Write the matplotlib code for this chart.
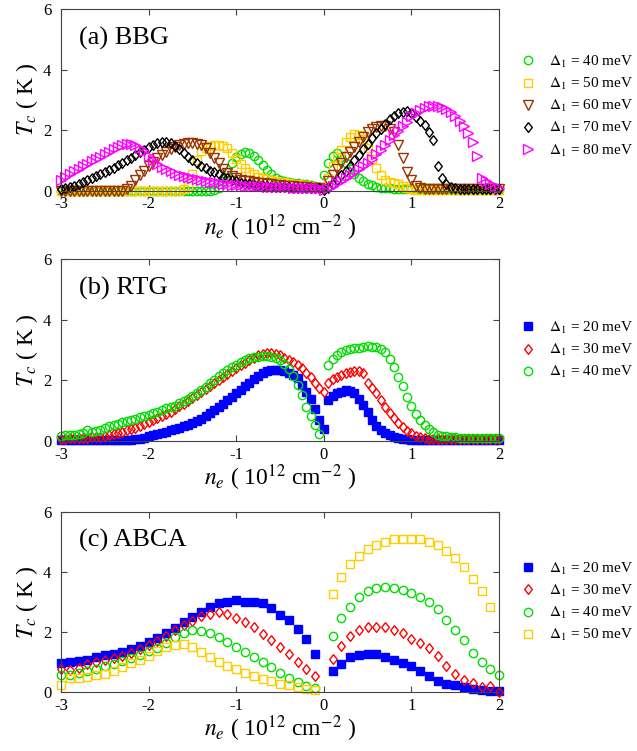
import numpy as np
import matplotlib
matplotlib.use('Agg')
import matplotlib.pyplot as plt

plt.rcParams['font.family'] = ['Liberation Serif', 'DejaVu Serif']
plt.rcParams['mathtext.fontset'] = 'stix'
plt.rcParams['axes.unicode_minus'] = False

nan = np.nan

# carrier density grids (10^12 cm^-2)
ne_fine = np.round(np.linspace(-3, 2, 101), 2)    # step 0.05, panels (a), (b)
ne_coarse = np.round(np.linspace(-3, 2, 51), 1)   # step 0.1, panel (c)

# ---- (a) BBG, Tc in K ----
bbg_40 = [0, 0, 0, 0, 0, 0, 0, 0, 0, 0,
          0, 0, 0, 0, 0, 0, 0, 0, 0, 0,
          0, 0, 0, 0, 0, 0, 0, 0, 0, 0,
          0, 0, 0, 0, 0, 0.02, 0.1, 0.3, 0.6, 0.9,
          1.1, 1.22, 1.26, 1.24, 1.15, 1.0, 0.84, 0.68, 0.54, 0.43,
          0.36, 0.31, 0.28, 0.26, 0.24, 0.22, 0.2, 0.18, 0.15, 0.12,
          0.5, 0.9, 1.15, 1.23, 1.12, 0.9, 0.72, 0.55, 0.4, 0.3,
          0.23, 0.17, 0.13, 0.1, 0.08, 0.07, 0.06, 0.05, 0.05, 0.05,
          0.04, 0.04, 0.04, 0.04, 0.04, 0.04, 0.04, 0.04, 0.04, 0.04,
          0.03, 0.03, 0.03, 0.03, 0.03, 0.03, 0.03, 0.03, 0.03, 0.03, 0.03]
bbg_50 = [0, 0, 0, 0, 0, 0, 0, 0, 0, 0,
          0, 0, 0, 0, 0, 0, 0, 0, 0, 0,
          0, 0, 0, 0, 0, 0, 0, 0, 0.05, 0.15,
          0.55, 1.0, 1.3, 1.42, 1.48, 1.5, 1.5, 1.47, 1.4, 1.25,
          1.05, 0.88, 0.74, 0.62, 0.53, 0.46, 0.41, 0.37, 0.34, 0.31,
          0.29, 0.27, 0.25, 0.23, 0.21, 0.19, 0.17, 0.15, 0.13, 0.11,
          0.1, 0.4, 0.8, 1.1, 1.35, 1.6, 1.78, 1.88, 1.85, 1.7,
          1.4, 1.05, 0.75, 0.5, 0.36, 0.28, 0.26, 0.22, 0.15, 0.08,
          0.04, 0.03, 0.03, 0.03, 0.03, 0.03, 0.03, 0.03, 0.03, 0.03,
          0.03, 0.03, 0.03, 0.03, 0.03, 0.03, 0.03, 0.03, 0.03, 0.03, 0.03]
bbg_60 = [0, 0, 0, 0, 0, 0, 0, 0, 0, 0,
          0, 0, 0, 0, 0, 0.05, 0.15, 0.35, 0.5, 0.65,
          0.8, 0.95, 1.07, 1.18, 1.28, 1.37, 1.45, 1.51, 1.55, 1.57,
          1.57, 1.55, 1.5, 1.4, 1.25, 1.08, 0.9, 0.72, 0.58, 0.47,
          0.4, 0.36, 0.33, 0.3, 0.28, 0.26, 0.24, 0.22, 0.2, 0.19,
          0.17, 0.16, 0.15, 0.14, 0.13, 0.12, 0.11, 0.1, 0.09, 0.08,
          0.05, 0.3, 0.5, 0.7, 0.9, 1.1, 1.28, 1.45, 1.62, 1.78,
          1.92, 2.03, 2.1, 2.14, 2.12, 2.05, 1.95, 1.5, 1.06, 0.62,
          0.35, 0.15, 0.08, 0.05, 0.05, 0.05, 0.05, 0.05, 0.05, 0.05,
          0.05, 0.05, 0.05, 0.05, 0.05, 0.05, 0.05, 0.05, 0.05, 0.05, 0.05]
bbg_70 = [0.05, 0.1, 0.13, 0.16, 0.2, 0.27, 0.34, 0.4, 0.47, 0.54,
          0.61, 0.68, 0.76, 0.83, 0.92, 1.0, 1.08, 1.17, 1.26, 1.35,
          1.43, 1.5, 1.56, 1.6, 1.6, 1.56, 1.48, 1.37, 1.25, 1.12,
          1.0, 0.9, 0.81, 0.73, 0.66, 0.6, 0.53, 0.46, 0.4, 0.35,
          0.3, 0.26, 0.23, 0.2, 0.18, 0.16, 0.15, 0.14, 0.13, 0.12,
          0.12, 0.11, 0.11, 0.1, 0.1, 0.1, 0.09, 0.09, 0.08, 0.08,
          0.03, 0.1, 0.22, 0.35, 0.5, 0.65, 0.82, 1.0, 1.18, 1.36,
          1.55, 1.72, 1.9, 2.05, 2.2, 2.35, 2.47, 2.55, 2.6, 2.62,
          2.55, 2.42, 2.3, 2.15, 1.95, 1.67, 0.82, 0.42, 0.22, 0.12,
          0.08, 0.06, 0.06, 0.06, 0.06, 0.06, 0.06, 0.06, 0.06, 0.06, 0.06]
bbg_80 = [0.35, 0.45, 0.55, 0.64, 0.72, 0.8, 0.88, 0.96, 1.04, 1.12,
          1.2, 1.28, 1.36, 1.43, 1.49, 1.53, 1.54, 1.5, 1.42, 1.3,
          1.15, 1.0, 0.88, 0.78, 0.7, 0.63, 0.57, 0.52, 0.48, 0.44,
          0.4, 0.37, 0.34, 0.31, 0.29, 0.27, 0.25, 0.23, 0.21, 0.19,
          0.18, 0.17, 0.16, 0.15, 0.15, 0.14, 0.14, 0.13, 0.13, 0.12,
          0.12, 0.11, 0.11, 0.1, 0.1, 0.09, 0.09, 0.08, 0.08, 0.07,
          0.03, 0.08, 0.16, 0.25, 0.33, 0.42, 0.5, 0.6, 0.7, 0.8,
          0.92, 1.05, 1.2, 1.35, 1.5, 1.67, 1.83, 1.98, 2.12, 2.25,
          2.45, 2.57, 2.67, 2.74, 2.79, 2.8, 2.79, 2.75, 2.68, 2.58,
          2.45, 2.3, 2.12, 1.9, 1.62, 1.15, 0.4, 0.3, 0.22, 0.15, 0.08]

# ---- (b) RTG ----
rtg_20 = [0.02, 0.02, 0.02, 0.02, 0.02, 0.02, 0.02, 0.02, 0.02, 0.02,
          0.02, 0.02, 0.02, 0.02, 0.02, 0.02, 0.04, 0.06, 0.08, 0.11,
          0.15, 0.19, 0.23, 0.27, 0.31, 0.35, 0.39, 0.43, 0.48, 0.53,
          0.6, 0.67, 0.74, 0.82, 0.91, 1.01, 1.12, 1.23, 1.35, 1.46,
          1.57, 1.68, 1.8, 1.92, 2.04, 2.15, 2.25, 2.31, 2.35, 2.35,
          2.33, 2.3, 2.25, 2.16, 2.07, 1.85, 1.62, 1.4, 1.07, 0.69,
          0.41, 1.35, 1.48, 1.57, 1.63, 1.68, 1.65, 1.57, 1.4, 1.18,
          0.96, 0.7, 0.5, 0.36, 0.27, 0.2, 0.14, 0.1, 0.07, 0.05,
          0.04, 0.03, 0.03, 0.03, 0.03, 0.03, 0.03, 0.03, 0.03, 0.03,
          0.03, 0.03, 0.03, 0.03, 0.03, 0.03, 0.03, 0.03, 0.03, 0.03, 0.03]
rtg_30 = [0.08, 0.08, 0.09, 0.09, 0.1, 0.1, 0.11, 0.12, 0.13, 0.14,
          0.17, 0.19, 0.22, 0.25, 0.3, 0.35, 0.39, 0.44, 0.5, 0.56,
          0.62, 0.68, 0.75, 0.82, 0.89, 0.97, 1.05, 1.14, 1.23, 1.32,
          1.41, 1.5, 1.6, 1.7, 1.8, 1.9, 2.0, 2.1, 2.2, 2.3,
          2.4, 2.49, 2.58, 2.67, 2.75, 2.82, 2.86, 2.89, 2.9, 2.88,
          2.82, 2.75, 2.68, 2.6, 2.5, 2.4, 2.25, 2.1, 1.92, 1.75,
          1.62, 1.9, 2.05, 2.12, 2.18, 2.23, 2.27, 2.3, 2.32, 2.23,
          1.9, 1.75, 1.57, 1.35, 1.12, 0.92, 0.76, 0.6, 0.45, 0.33,
          0.25, 0.17, 0.13, 0.1, 0.08, 0.07, 0.07, 0.07, 0.07, 0.07,
          0.07, 0.07, 0.07, 0.07, 0.07, 0.07, 0.07, 0.07, 0.07, 0.07, 0.07]
rtg_40 = [0.18, 0.19, 0.2, 0.2, 0.22, 0.25, 0.36, 0.3, 0.32, 0.36,
          0.42, 0.48, 0.53, 0.57, 0.62, 0.66, 0.7, 0.74, 0.78, 0.82,
          0.87, 0.92, 0.97, 1.03, 1.09, 1.13, 1.17, 1.24, 1.31, 1.39,
          1.47, 1.57, 1.68, 1.79, 1.9, 2.02, 2.13, 2.24, 2.34, 2.44,
          2.52, 2.6, 2.67, 2.72, 2.76, 2.78, 2.79, 2.79, 2.78, 2.74,
          2.66, 2.53, 2.38, 2.15, 1.85, 1.5, 1.12, 0.82, 0.52, 0.24,
          nan, 2.5, 2.7, 2.84, 2.93, 3.0, 3.03, 3.06, 3.08, 3.1,
          3.12, 3.11, 3.1, 3.04, 2.92, 2.7, 2.45, 2.12, 1.82, 1.46,
          1.15, 0.88, 0.68, 0.52, 0.38, 0.28, 0.21, 0.17, 0.15, 0.13,
          0.12, 0.11, 0.1, 0.1, 0.1, 0.1, 0.1, 0.1, 0.1, 0.1, 0.1]

# ---- (c) ABCA ----
abca_20 = [0.95, 1.0, 1.02, 1.07, 1.15, 1.22, 1.28, 1.34, 1.43, 1.53,
           1.65, 1.8, 1.97, 2.14, 2.32, 2.5, 2.68, 2.84, 2.95, 2.99,
           3.05, 3.0, 3.0, 2.95, 2.81, 2.58, 2.39, 2.09, 1.75, 1.28,
           nan,
           0.69, 0.92, 1.15, 1.23, 1.28, 1.25, 1.18, 1.07, 0.98, 0.85,
           0.7, 0.52, 0.37, 0.28, 0.24, 0.15, 0.09, 0.05, 0.03, 0.02]
abca_30 = [0.78, 0.72, 0.8, 0.92, 1.0, 1.07, 1.13, 1.2, 1.3, 1.42,
           1.55, 1.7, 1.87, 2.05, 2.22, 2.38, 2.52, 2.6, 2.65, 2.6,
           2.45, 2.33, 2.17, 1.93, 1.73, 1.5, 1.28, 1.0, 0.76, 0.53,
           nan,
           1.11, 1.53, 1.86, 2.06, 2.15, 2.17, 2.15, 2.06, 1.95, 1.78,
           1.63, 1.45, 1.19, 0.86, 0.61, 0.39, 0.29, 0.17, 0.2, 0.0]
abca_40 = [0.55, 0.58, 0.62, 0.7, 0.77, 0.85, 0.93, 1.02, 1.12, 1.23,
           1.35, 1.48, 1.62, 1.82, 1.98, 2.05, 2.03, 1.95, 1.82, 1.67,
           1.5, 1.33, 1.17, 1.0, 0.84, 0.64, 0.48, 0.34, 0.2, 0.13,
           nan,
           1.86, 2.45, 2.83, 3.15, 3.37, 3.47, 3.5, 3.47, 3.4, 3.3,
           3.17, 3.0, 2.75, 2.39, 2.08, 1.72, 1.31, 1.0, 0.78, 0.55]
abca_50 = [0.22, 0.45, 0.48, 0.5, 0.55, 0.61, 0.7, 0.83, 0.95, 1.07,
           1.2, 1.35, 1.5, 1.58, 1.6, 1.5, 1.33, 1.15, 1.0, 0.87,
           0.75, 0.63, 0.53, 0.44, 0.36, 0.28, 0.22, 0.17, 0.11, 0.05,
           nan,
           3.25, 3.83, 4.25, 4.53, 4.76, 4.89, 5.0, 5.1, 5.11, 5.11,
           5.11, 5.0, 4.89, 4.7, 4.47, 4.17, 3.78, 3.37, 2.83, nan]

DIAMOND = [(0, 1), (0.78, 0), (0, -1), (-0.78, 0), (0, 1)]


def draw_panel(ax, x, series, title, legend_y=0.5):
    for y, label, marker, color, filled, size in series:
        ax.plot(x, y, linestyle='none', marker=marker, markersize=size,
                markeredgecolor=color, markerfacecolor=color if filled else 'none',
                markeredgewidth=1.0, label=label, clip_on=False)
    ax.set_xlim(-3, 2)
    ax.set_ylim(0, 6)
    ax.set_xticks([-3, -2, -1, 0, 1, 2])
    ax.set_yticks([0, 2, 4, 6])
    ax.tick_params(direction='in', top=True, right=True, length=4,
                   labelsize=12, color='#444444')
    ax.tick_params(axis='x', pad=4)
    ax.tick_params(axis='y', pad=7)
    for sp in ax.spines.values():
        sp.set_color('#444444')
        sp.set_linewidth(0.8)
    ax.set_xlabel(r'$n_e$ ( 10$^{12}$ cm$^{-2}$ )', fontsize=17, labelpad=0)
    ax.set_ylabel(r'$T_c$ ( K )', fontsize=17, labelpad=2)
    ax.text(0.04, 0.84, title, transform=ax.transAxes, fontsize=19, va='center')
    ax.legend(loc='center left', bbox_to_anchor=(1.035, legend_y), frameon=False,
              fontsize=11, handlelength=1.0, handletextpad=0.85,
              labelspacing=0.4, borderaxespad=0, numpoints=1)


def main():
    fig = plt.figure(figsize=(6.37, 7.51), dpi=100)
    ax_a = fig.add_axes([0.0958, 0.7463, 0.6876, 0.2417])
    ax_b = fig.add_axes([0.0958, 0.4128, 0.6876, 0.2423])
    ax_c = fig.add_axes([0.0958, 0.0786, 0.6876, 0.2397])

    draw_panel(ax_a, ne_fine, [
        (bbg_40, r'$\Delta_1$ = 40 meV', 'o', '#00dd00', False, 6),
        (bbg_50, r'$\Delta_1$ = 50 meV', 's', '#ffcc00', False, 5.5),
        (bbg_60, r'$\Delta_1$ = 60 meV', 'v', '#993300', False, 6.5),
        (bbg_70, r'$\Delta_1$ = 70 meV', DIAMOND, 'black', False, 7),
        (bbg_80, r'$\Delta_1$ = 80 meV', '>', '#ff00ff', False, 6.5),
    ], '(a) BBG', legend_y=0.465)

    draw_panel(ax_b, ne_fine, [
        (rtg_20, r'$\Delta_1$ = 20 meV', 's', '#0000ff', True, 5.5),
        (rtg_30, r'$\Delta_1$ = 30 meV', DIAMOND, '#ff0000', False, 7),
        (rtg_40, r'$\Delta_1$ = 40 meV', 'o', '#00dd00', False, 6),
    ], '(b) RTG')

    draw_panel(ax_c, ne_coarse, [
        (abca_20, r'$\Delta_1$ = 20 meV', 's', '#0000ff', True, 5.5),
        (abca_30, r'$\Delta_1$ = 30 meV', DIAMOND, '#ff0000', False, 7),
        (abca_40, r'$\Delta_1$ = 40 meV', 'o', '#00dd00', False, 6),
        (abca_50, r'$\Delta_1$ = 50 meV', 's', '#ffcc00', False, 5.5),
    ], '(c) ABCA')

    fig.savefig('out.png', dpi=100)


if __name__ == "__main__":
    main()
